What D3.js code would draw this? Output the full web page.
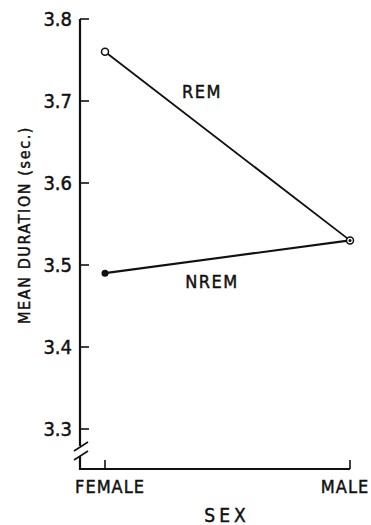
<!DOCTYPE html>
<html>
<head>
<meta charset="utf-8">
<script src="https://cdn.jsdelivr.net/npm/d3@7"></script>
<style>
  html, body { margin: 0; padding: 0; background: #fff; }
  text { font-family: "Liberation Sans Narrow", "DejaVu Sans Condensed", "Liberation Sans", sans-serif; fill: #111; stroke: #111; stroke-width: 0.45px; }
</style>
</head>
<body>
<div id="chart"></div>
<script>
// chart data
const categories = ["FEMALE", "MALE"];
const remValues = [3.76, 3.53];
const nremValues = [3.49, 3.53];
const yTicks = [3.3, 3.4, 3.5, 3.6, 3.7, 3.8];

const width = 371, height = 525;
const svg = d3.select("#chart").append("svg")
    .attr("width", width)
    .attr("height", height);

const x = d3.scalePoint().domain(categories).range([105, 350]);
const y = d3.scaleLinear().domain([3.3, 3.8]).range([429, 19]);

const axisX = 80, baseY = 469;
const ink = "#111";

// y axis line with break
svg.append("line").attr("x1", axisX).attr("x2", axisX)
    .attr("y1", y(3.8)).attr("y2", 446)
    .attr("stroke", ink).attr("stroke-width", 2.2);
svg.append("line").attr("x1", axisX).attr("x2", axisX)
    .attr("y1", 456).attr("y2", baseY)
    .attr("stroke", ink).attr("stroke-width", 2.2);
[[-6, 451, 8, 442], [-6, 460, 8, 451]].forEach(b => {
    svg.append("line")
        .attr("x1", axisX + b[0]).attr("y1", b[1])
        .attr("x2", axisX + b[2]).attr("y2", b[3])
        .attr("stroke", ink).attr("stroke-width", 1.6);
});

// y ticks (pointing inward)
svg.selectAll(".ytick").data(yTicks).enter().append("line")
    .attr("x1", axisX).attr("x2", axisX + 9)
    .attr("y1", d => y(d)).attr("y2", d => y(d))
    .attr("stroke", ink).attr("stroke-width", 1.6);
svg.selectAll(".ylab").data(yTicks).enter().append("text")
    .attr("x", axisX - 8).attr("y", d => y(d) + 7)
    .attr("text-anchor", "end")
    .style("font-size", "20px")
    .text(d => d.toFixed(1));

// x axis
svg.append("line").attr("x1", axisX - 1).attr("x2", x("MALE"))
    .attr("y1", baseY).attr("y2", baseY)
    .attr("stroke", ink).attr("stroke-width", 2.2);
svg.selectAll(".xtick").data(categories).enter().append("line")
    .attr("x1", d => x(d)).attr("x2", d => x(d))
    .attr("y1", baseY).attr("y2", baseY - 9)
    .attr("stroke", ink).attr("stroke-width", 1.6);
svg.selectAll(".xlab").data(categories).enter().append("text")
    .attr("x", (d, i) => i === 0 ? x(d) + 5 : x(d) - 5)
    .attr("y", 493)
    .attr("text-anchor", "middle")
    .style("font-size", "18px")
    .style("letter-spacing", "1px")
    .text(d => d);

// axis titles
svg.append("text")
    .attr("x", 227).attr("y", 522)
    .attr("text-anchor", "middle")
    .style("font-size", "19px")
    .style("letter-spacing", "4px")
    .text("SEX");
svg.append("text")
    .attr("transform", "translate(30,225) rotate(-90)")
    .attr("text-anchor", "middle")
    .style("font-size", "16px")
    .style("letter-spacing", "1.6px")
    .text("MEAN DURATION (sec.)");

// lines
const line = d3.line().x((d, i) => x(categories[i])).y(d => y(d));
svg.append("path").datum(remValues).attr("d", line)
    .attr("fill", "none").attr("stroke", ink).attr("stroke-width", 1.8);
svg.append("path").datum(nremValues).attr("d", line)
    .attr("fill", "none").attr("stroke", ink).attr("stroke-width", 2.2);

// points
svg.selectAll(".rem").data(remValues).enter().append("circle")
    .attr("cx", (d, i) => x(categories[i])).attr("cy", d => y(d))
    .attr("r", 3.5).attr("fill", "#fff").attr("stroke", ink).attr("stroke-width", 1.5);
svg.selectAll(".nrem").data(nremValues).enter().append("circle")
    .attr("cx", (d, i) => x(categories[i])).attr("cy", d => y(d))
    .attr("r", (d, i) => i === 0 ? 3.5 : 1.5).attr("fill", ink);

// series labels
svg.append("text").attr("x", 202).attr("y", 98)
    .attr("text-anchor", "middle")
    .style("font-size", "18px").style("letter-spacing", "1.5px")
    .text("REM");
svg.append("text").attr("x", 212).attr("y", 288)
    .attr("text-anchor", "middle")
    .style("font-size", "18px").style("letter-spacing", "1.5px")
    .text("NREM");
</script>
</body>
</html>
